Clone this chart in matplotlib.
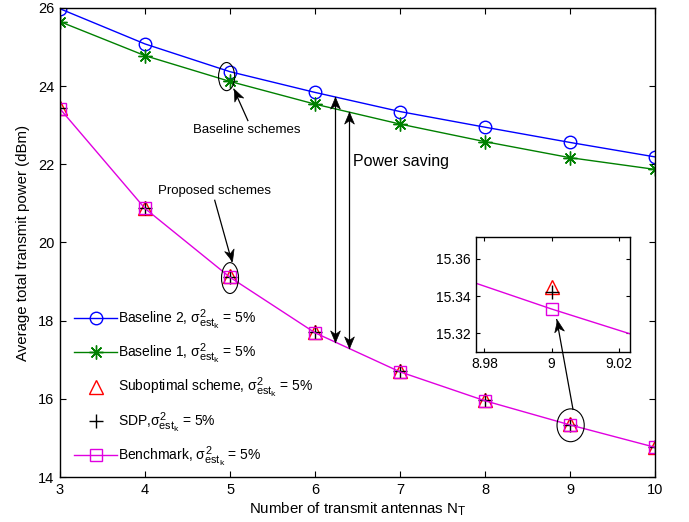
import numpy as np
import matplotlib
matplotlib.use("Agg")
import matplotlib.pyplot as plt
import matplotlib._mathtext as mathtext_internal
from matplotlib.path import Path
from matplotlib.patches import Ellipse

plt.rcParams['font.family'] = ['Liberation Sans', 'DejaVu Sans']
plt.rcParams['mathtext.fontset'] = 'custom'
plt.rcParams['mathtext.rm'] = 'Liberation Sans'
plt.rcParams['mathtext.it'] = 'Liberation Sans'
plt.rcParams['mathtext.bf'] = 'Liberation Sans:bold'
# slightly larger sub/superscripts
mathtext_internal.SHRINK_FACTOR = 0.78

# ---- data -------------------------------------------------------------
antennas = [3, 4, 5, 6, 7, 8, 9, 10]
baseline2 = [25.98, 25.08, 24.37, 23.84, 23.35, 22.95, 22.56, 22.19]
baseline1 = [25.65, 24.78, 24.12, 23.54, 23.03, 22.58, 22.17, 21.87]
suboptimal = [23.44, 20.89, 19.13, 17.71, 16.71, 15.97, 15.345, 14.78]
sdp = [23.43, 20.88, 19.12, 17.70, 16.70, 15.96, 15.342, 14.77]
benchmark = [23.42, 20.87, 19.11, 17.69, 16.69, 15.95, 15.333, 14.76]

sig = r'$\sigma^{2}_{\mathrm{est}_{\mathrm{k}}}$'
labels = [
    'Baseline 2, ' + sig + ' = 5%',
    'Baseline 1, ' + sig + ' = 5%',
    'Suboptimal scheme, ' + sig + ' = 5%',
    'SDP,' + sig + ' = 5%',
    'Benchmark, ' + sig + ' = 5%',
]
x_ticks = [3, 4, 5, 6, 7, 8, 9, 10]
y_ticks = [14, 16, 18, 20, 22, 24, 26]
inset_x_ticks = [8.98, 9.0, 9.02]
inset_x_labels = ['8.98', '9', '9.02']
inset_y_ticks = [15.32, 15.34, 15.36]

BLUE = '#0000ff'
GREEN = '#008000'
RED = '#ff0000'
MAG = '#e000e0'
ASTERISK = (8, 2, 0)

fig = plt.figure(figsize=(6.89, 5.22), dpi=100)
ax = fig.add_axes([0.0871, 0.0862, 0.8636, 0.8985])


def draw_series(a, lw=1.0):
    a.plot(antennas, baseline2, color=BLUE, lw=lw, marker='o', ms=9,
           mfc='none', mew=1.0, label=labels[0])
    a.plot(antennas, baseline1, color=GREEN, lw=lw, marker=ASTERISK, ms=10,
           mfc='none', mew=1.0, label=labels[1])
    a.plot(antennas, suboptimal, color=RED, ls='none', marker='^', ms=10,
           mfc='none', mew=1.0, label=labels[2])
    a.plot(antennas, sdp, color='black', ls='none', marker='+', ms=10,
           mew=1.0, label=labels[3])
    a.plot(antennas, benchmark, color=MAG, lw=lw, marker='s', ms=8,
           mfc='none', mew=1.0, label=labels[4])


draw_series(ax)
ax.set_xlim(3, 10)
ax.set_ylim(14, 26)
ax.set_xticks(x_ticks)
ax.set_yticks(y_ticks)
ax.tick_params(direction='in', top=True, right=True, length=4, width=0.8,
               labelsize=10.5, pad=4)
for s in ax.spines.values():
    s.set_linewidth(1.0)
ax.set_xlabel(r'Number of transmit antennas N$_{\mathrm{T}}$', fontsize=10.8,
              labelpad=3)
ax.set_ylabel('Average total transmit power (dBm)', fontsize=10.8, labelpad=6)

leg = ax.legend(loc='upper left', bbox_to_anchor=(0.012, 0.376), frameon=False,
                fontsize=10, handlelength=3.1, labelspacing=0.75, borderpad=0,
                handletextpad=0.05)


# ---- arrow helpers ----------------------------------------------------
def head_path(angle_deg):
    base = np.array([(0, 0), (-0.42, -1.0), (0, -0.7), (0.42, -1.0), (0, 0)])
    th = np.deg2rad(angle_deg - 90)
    rot = np.array([[np.cos(th), -np.sin(th)], [np.sin(th), np.cos(th)]])
    pts = base @ rot.T
    verts = [(1.2, 1.2), (-1.2, -1.2)] + [tuple(p) for p in pts]
    codes = [Path.MOVETO, Path.MOVETO, Path.MOVETO] + [Path.LINETO] * 3 + [Path.CLOSEPOLY]
    return Path(verts, codes)


def arrow(a, p0, p1, both=False, lw=0.9, size=20, clip=True):
    tr = a.transData
    d0 = tr.transform(p0)
    d1 = tr.transform(p1)
    ang = np.degrees(np.arctan2(d1[1] - d0[1], d1[0] - d0[0]))
    a.plot([p0[0], p1[0]], [p0[1], p1[1]], color='black', lw=lw, clip_on=clip,
           zorder=6)
    a.plot([p1[0]], [p1[1]], marker=head_path(ang), ms=size, color='black',
           mec='black', mew=0.5, ls='none', clip_on=clip, zorder=6)
    if both:
        a.plot([p0[0]], [p0[1]], marker=head_path(ang + 180), ms=size,
               color='black', mec='black', mew=0.5, ls='none', clip_on=clip,
               zorder=6)


# baseline schemes annotation
i5 = antennas.index(5)
ax.add_patch(Ellipse((4.96, (baseline2[i5] + baseline1[i5]) / 2), 0.19, 0.72,
                     fill=False, ec='black', lw=0.8, zorder=5))
ax.text(5.2, 22.87, 'Baseline schemes', fontsize=9.5, ha='center', va='center')
arrow(ax, (5.21, 23.12), (5.045, 23.92))

# proposed schemes annotation
ax.add_patch(Ellipse((5.0, benchmark[i5] - 0.02), 0.2, 0.79,
                     fill=False, ec='black', lw=0.8, zorder=5))
ax.text(4.82, 21.32, 'Proposed schemes', fontsize=9.5, ha='center', va='center')
arrow(ax, (4.82, 21.08), (5.02, 19.52))

# power saving arrows
xa, xb = 6.235, 6.40
arrow(ax, (xa, np.interp(xa, antennas, benchmark)),
      (xa, np.interp(xa, antennas, baseline2)), both=True)
arrow(ax, (xb, np.interp(xb, antennas, benchmark)),
      (xb, np.interp(xb, antennas, baseline1)), both=True)
ax.text(6.445, 22.07, 'Power saving', fontsize=11.5, ha='left', va='center')

# ellipse around the zoomed point
i9 = antennas.index(9)
ax.add_patch(Ellipse((9.007, benchmark[i9] - 0.01), 0.32, 0.84,
                     fill=False, ec='black', lw=0.8, zorder=5))

# ---- inset ------------------------------------------------------------
axins = fig.add_axes([0.6909, 0.3262, 0.2235, 0.2204])
draw_series(axins)
axins.set_xlim(8.9775, 9.0233)
axins.set_ylim(15.31, 15.372)
axins.set_xticks(inset_x_ticks)
axins.set_xticklabels(inset_x_labels)
axins.set_yticks(inset_y_ticks)
axins.set_yticklabels([f'{v:.2f}' for v in inset_y_ticks])
axins.tick_params(direction='in', top=True, right=True, length=3, width=0.8,
                  labelsize=10, pad=4)
for s in axins.spines.values():
    s.set_linewidth(1.0)

# arrow from the main-plot ellipse up into the inset
start_disp = ax.transData.transform((9.035, 15.73))
start_ins = axins.transData.inverted().transform(start_disp)
arrow(axins, tuple(start_ins), (9.0015, 15.3273), clip=False)

fig.savefig('out.png', dpi=100)
